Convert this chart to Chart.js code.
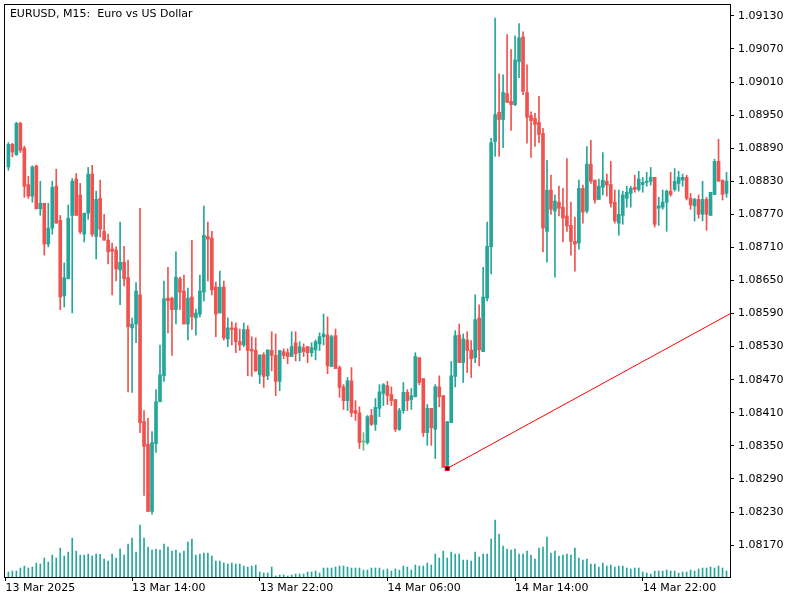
<!DOCTYPE html>
<html><head><meta charset="utf-8">
<script src="https://cdn.jsdelivr.net/npm/chart.js@4.4.1/dist/chart.umd.min.js"></script>
<style>html,body{margin:0;padding:0;background:#fff}#c{display:block}</style>
</head><body>
<canvas id="c" width="800" height="600"></canvas>
<script>
const chartTitle = 'EURUSD, M15:  Euro vs US Dollar';

const open = [
1.08856,1.08897,1.08878,1.08935,1.08890,1.08824,1.08803,1.08858,1.08780,1.08790,
1.08716,1.08745,1.08821,1.08759,1.08622,1.08653,1.08768,1.08834,1.08805,1.08734,
1.08772,1.08843,1.08730,1.08799,1.08739,1.08723,1.08707,1.08705,1.08669,1.08683,
1.08655,1.08564,1.08571,1.08624,1.08394,1.08353,1.08231,1.08354,1.08430,1.08477,
1.08618,1.08618,1.08597,1.08653,1.08631,1.08571,1.08620,1.08582,1.08589,1.08629,
1.08730,1.08727,1.08638,1.08591,1.08638,1.08544,1.08564,1.08564,1.08539,1.08533,
1.08561,1.08525,1.08523,1.08479,1.08515,1.08477,1.08523,1.08514,1.08467,1.08521,
1.08519,1.08512,1.08537,1.08519,1.08528,1.08530,1.08519,1.08524,1.08535,1.08548,
1.08551,1.08494,1.08550,1.08492,1.08457,1.08432,1.08468,1.08414,1.08410,1.08357,
1.08356,1.08405,1.08389,1.08418,1.08445,1.08459,1.08443,1.08434,1.08380,1.08414,
1.08447,1.08434,1.08439,1.08510,1.08472,1.08374,1.08418,1.08380,1.08457,1.08441,
1.08315,1.08392,1.08476,1.08551,1.08501,1.08542,1.08524,1.08510,1.08582,1.08521,
1.08618,1.08711,1.08902,1.08955,1.08942,1.08989,1.08975,1.08969,1.09047,1.09092,
1.08991,1.08949,1.08944,1.08937,1.08917,1.08739,1.08814,1.08776,1.08792,1.08783,
1.08767,1.08750,1.08721,1.08718,1.08817,1.08776,1.08861,1.08832,1.08797,1.08819,
1.08830,1.08824,1.08792,1.08754,1.08768,1.08799,1.08808,1.08819,1.08815,1.08824,
1.08828,1.08830,1.08837,1.08781,1.08783,1.08792,1.08812,1.08815,1.08826,1.08832,
1.08837,1.08799,1.08785,1.08797,1.08770,1.08797,1.08768,1.08806,1.08866,1.08832,
1.08808];

const high = [
1.08900,1.08899,1.08937,1.08937,1.08894,1.08839,1.08858,1.08859,1.08830,1.08790,
1.08790,1.08830,1.08852,1.08768,1.08682,1.08787,1.08835,1.08844,1.08826,1.08772,
1.08855,1.08859,1.08812,1.08832,1.08770,1.08734,1.08718,1.08711,1.08756,1.08712,
1.08687,1.08582,1.08646,1.08781,1.08414,1.08400,1.08376,1.08452,1.08533,1.08649,
1.08674,1.08620,1.08702,1.08656,1.08660,1.08636,1.08723,1.08598,1.08660,1.08785,
1.08756,1.08739,1.08647,1.08667,1.08649,1.08582,1.08575,1.08573,1.08562,1.08573,
1.08568,1.08548,1.08546,1.08515,1.08519,1.08524,1.08557,1.08553,1.08523,1.08526,
1.08526,1.08557,1.08557,1.08539,1.08535,1.08530,1.08537,1.08542,1.08555,1.08589,
1.08584,1.08551,1.08562,1.08495,1.08461,1.08474,1.08492,1.08432,1.08421,1.08374,
1.08405,1.08416,1.08436,1.08461,1.08463,1.08467,1.08457,1.08434,1.08418,1.08465,
1.08452,1.08454,1.08519,1.08510,1.08472,1.08425,1.08418,1.08461,1.08477,1.08441,
1.08394,1.08503,1.08559,1.08571,1.08553,1.08557,1.08541,1.08624,1.08606,1.08674,
1.08756,1.08908,1.09126,1.09025,1.09023,1.09096,1.09069,1.09094,1.09116,1.09101,
1.09041,1.08956,1.08953,1.08984,1.08926,1.08868,1.08841,1.08805,1.08821,1.08817,
1.08871,1.08792,1.08765,1.08832,1.08823,1.08893,1.08904,1.08832,1.08834,1.08882,
1.08843,1.08866,1.08814,1.08814,1.08812,1.08821,1.08821,1.08841,1.08848,1.08837,
1.08846,1.08855,1.08837,1.08801,1.08814,1.08814,1.08846,1.08853,1.08848,1.08843,
1.08841,1.08808,1.08799,1.08805,1.08830,1.08801,1.08810,1.08870,1.08906,1.08832,
1.08846];

const low = [
1.08850,1.08874,1.08877,1.08882,1.08801,1.08799,1.08792,1.08780,1.08768,1.08696,
1.08711,1.08734,1.08754,1.08597,1.08602,1.08653,1.08591,1.08768,1.08735,1.08720,
1.08761,1.08730,1.08689,1.08729,1.08723,1.08680,1.08624,1.08649,1.08606,1.08640,
1.08448,1.08447,1.08537,1.08374,1.08260,1.08231,1.08226,1.08338,1.08430,1.08467,
1.08555,1.08514,1.08571,1.08597,1.08571,1.08542,1.08561,1.08551,1.08584,1.08613,
1.08649,1.08624,1.08548,1.08591,1.08542,1.08530,1.08533,1.08519,1.08523,1.08530,
1.08477,1.08476,1.08485,1.08463,1.08456,1.08470,1.08486,1.08441,1.08450,1.08508,
1.08499,1.08512,1.08504,1.08504,1.08512,1.08501,1.08512,1.08506,1.08523,1.08533,
1.08481,1.08494,1.08490,1.08438,1.08416,1.08414,1.08403,1.08396,1.08345,1.08342,
1.08353,1.08387,1.08378,1.08403,1.08423,1.08425,1.08423,1.08376,1.08378,1.08409,
1.08414,1.08416,1.08439,1.08461,1.08367,1.08351,1.08351,1.08327,1.08421,1.08311,
1.08309,1.08392,1.08457,1.08501,1.08465,1.08483,1.08474,1.08501,1.08495,1.08521,
1.08613,1.08662,1.08875,1.08875,1.08891,1.08973,1.08922,1.08967,1.09018,1.08987,
1.08899,1.08873,1.08893,1.08900,1.08702,1.08683,1.08770,1.08656,1.08767,1.08720,
1.08739,1.08696,1.08667,1.08707,1.08754,1.08772,1.08826,1.08790,1.08797,1.08805,
1.08803,1.08783,1.08754,1.08732,1.08752,1.08783,1.08783,1.08810,1.08812,1.08810,
1.08821,1.08823,1.08747,1.08750,1.08779,1.08739,1.08803,1.08812,1.08812,1.08821,
1.08796,1.08779,1.08758,1.08763,1.08758,1.08741,1.08768,1.08806,1.08830,1.08796,
1.08801];

const close = [
1.08897,1.08883,1.08935,1.08886,1.08821,1.08803,1.08856,1.08780,1.08790,1.08716,
1.08745,1.08819,1.08754,1.08620,1.08655,1.08763,1.08830,1.08768,1.08738,1.08772,
1.08843,1.08734,1.08797,1.08743,1.08723,1.08702,1.08703,1.08671,1.08683,1.08653,
1.08566,1.08571,1.08631,1.08392,1.08349,1.08231,1.08356,1.08430,1.08479,1.08617,
1.08613,1.08597,1.08656,1.08629,1.08571,1.08618,1.08584,1.08591,1.08631,1.08732,
1.08725,1.08633,1.08589,1.08638,1.08546,1.08564,1.08561,1.08539,1.08533,1.08561,
1.08523,1.08522,1.08486,1.08515,1.08476,1.08524,1.08514,1.08467,1.08523,1.08514,
1.08512,1.08530,1.08517,1.08530,1.08521,1.08519,1.08528,1.08539,1.08548,1.08553,
1.08495,1.08548,1.08490,1.08456,1.08432,1.08468,1.08410,1.08409,1.08356,1.08357,
1.08403,1.08389,1.08420,1.08448,1.08461,1.08441,1.08432,1.08380,1.08414,1.08447,
1.08432,1.08441,1.08512,1.08465,1.08374,1.08418,1.08383,1.08457,1.08439,1.08311,
1.08394,1.08477,1.08550,1.08501,1.08544,1.08523,1.08508,1.08579,1.08524,1.08620,
1.08712,1.08900,1.08951,1.08942,1.08991,1.08973,1.08969,1.09050,1.09090,1.08993,
1.08946,1.08940,1.08933,1.08915,1.08745,1.08814,1.08779,1.08794,1.08781,1.08763,
1.08749,1.08721,1.08716,1.08817,1.08774,1.08861,1.08830,1.08796,1.08821,1.08832,
1.08823,1.08790,1.08758,1.08770,1.08805,1.08810,1.08817,1.08815,1.08834,1.08828,
1.08830,1.08837,1.08752,1.08785,1.08792,1.08812,1.08806,1.08830,1.08837,1.08837,
1.08799,1.08787,1.08797,1.08770,1.08797,1.08770,1.08810,1.08866,1.08830,1.08806,
1.08830];

const volume = [
300,360,360,540,660,540,600,840,780,1140,
900,1320,1140,1740,1260,1500,2340,1560,1320,1320,
1380,1260,1380,1360,1080,960,1380,1140,1680,1320,
1980,2340,1500,3120,2340,1800,1620,1680,1620,1980,
1800,1560,1620,1440,1560,2100,2280,1320,1380,1440,
1440,1260,960,960,840,780,840,780,780,660,
600,660,720,300,240,240,600,60,120,120,
60,120,180,180,180,300,300,360,240,540,
540,540,600,660,660,600,540,540,540,420,
420,540,540,540,420,480,360,480,420,660,
600,420,720,660,660,840,720,1380,1140,1560,
1140,1500,1380,1380,1020,1020,960,1500,1200,1380,
1380,2280,3420,2580,1860,1680,1620,1680,1380,1380,
1560,1320,1080,1740,1800,2400,1440,1560,1260,1320,
1380,1320,1740,1140,1020,1080,780,780,600,840,
660,720,600,660,660,540,480,540,540,300,
240,180,360,360,360,420,360,360,240,300,
300,420,360,480,540,540,600,540,660,540,
360];

// time axis labels and the candle index where each label sits
const timeTickLabels = ['13 Mar 2025','13 Mar 14:00','13 Mar 22:00','14 Mar 06:00','14 Mar 14:00','14 Mar 22:00'];
const timeTickIndex = [-0.75, 31, 63, 95, 127, 159];

const priceTickLabels = ['1.08170','1.08230','1.08290','1.08350','1.08410','1.08470','1.08530','1.08590',
  '1.08650','1.08710','1.08770','1.08830','1.08890','1.08950','1.09010','1.09070','1.09130'];

// trend line object: from candle 110 low to beyond the last candle
const trendLine = [{x:110, y:1.08309}, {x:181, y:1.08590}];

const BULL = '#26a69a', BEAR = '#ef5350', DOJI = '#5cbf85';
const idx = open.map((_, i) => i);
const colors = idx.map(i => close[i] > open[i] ? BULL : (close[i] < open[i] ? BEAR : DOJI));
const bodies = idx.map(i => ({x: i, y: [Math.min(open[i], close[i]), Math.max(open[i], close[i])]}));
const wicks = idx.map(i => ({x: i, y: [low[i], high[i]]}));
const vols = idx.map(i => ({x: i, y: volume[i]}));

const FONT = {family: 'DejaVu Sans', size: 11};

function zeroPad(s) { s.paddingLeft = 0; s.paddingRight = 0; s.paddingTop = 0; s.paddingBottom = 0; }

const framePlugin = {
  id: 'frame',
  afterDraw(chart) {
    const ctx = chart.ctx, a = chart.chartArea;
    ctx.save();
    ctx.strokeStyle = '#000';
    ctx.lineWidth = 1;
    ctx.strokeRect(Math.round(a.left) + 0.5, Math.round(a.top) + 0.5,
                   Math.round(a.right - a.left), Math.round(a.bottom - a.top));
    ctx.fillStyle = '#000';
    ctx.font = '11px "DejaVu Sans"';
    ctx.textBaseline = 'middle';
    ctx.textAlign = 'left';
    ctx.fillText(chartTitle, a.left + 6, a.top + 10);
    ctx.restore();
  }
};

new Chart(document.getElementById('c'), {
  type: 'bar',
  data: {
    datasets: [
      {
        type: 'line', data: trendLine, xAxisID: 'x', yAxisID: 'y',
        borderColor: '#ff0000', borderWidth: 1, fill: false, tension: 0,
        pointStyle: 'rect', pointRadius: [2.9, 0], pointBackgroundColor: '#000',
        pointBorderColor: '#ff0000', pointBorderWidth: 1, pointHoverRadius: 0
      },
      {
        data: bodies, xAxisID: 'x', yAxisID: 'y', backgroundColor: colors,
        barThickness: 3, grouped: false, borderWidth: 0, minBarLength: 1
      },
      {
        data: wicks, xAxisID: 'x', yAxisID: 'y', backgroundColor: colors,
        barThickness: 1, grouped: false, borderWidth: 0, minBarLength: 1
      },
      {
        data: vols, xAxisID: 'x', yAxisID: 'yv', backgroundColor: BULL,
        barThickness: 1, grouped: false, borderWidth: 0
      }
    ]
  },
  options: {
    responsive: false,
    devicePixelRatio: 1,
    animation: false,
    events: [],
    layout: {padding: {left: 2, top: 2, right: 0, bottom: 0}},
    plugins: {legend: {display: false}, tooltip: {enabled: false}, title: {display: false}},
    scales: {
      x: {
        type: 'linear', position: 'bottom', min: -1.125, max: 180.875, offset: false,
        afterBuildTicks: s => { s.ticks = timeTickIndex.map(v => ({value: v})); },
        afterFit: s => { s.height = 23; zeroPad(s); },
        ticks: {
          callback: (v, i) => timeTickLabels[i], align: 'start', autoSkip: false,
          maxRotation: 0, minRotation: 0, padding: 1, font: FONT, color: '#000'
        },
        grid: {drawOnChartArea: false, drawTicks: true, tickLength: 4, color: '#000', lineWidth: 1, offset: false},
        border: {display: false}
      },
      y: {
        type: 'linear', position: 'right', min: 1.081121, max: 1.091517,
        afterBuildTicks: s => { s.ticks = priceTickLabels.map(t => ({value: parseFloat(t)})); },
        afterFit: s => { s.width = 70; zeroPad(s); },
        ticks: {callback: (v, i) => priceTickLabels[i], autoSkip: false, padding: 4, font: FONT, color: '#000'},
        grid: {drawOnChartArea: false, drawTicks: true, tickLength: 4, color: '#000', lineWidth: 1},
        border: {display: false}
      },
      yv: {type: 'linear', display: false, min: 0, max: 34500}
    }
  },
  plugins: [framePlugin]
});
</script>
</body></html>
